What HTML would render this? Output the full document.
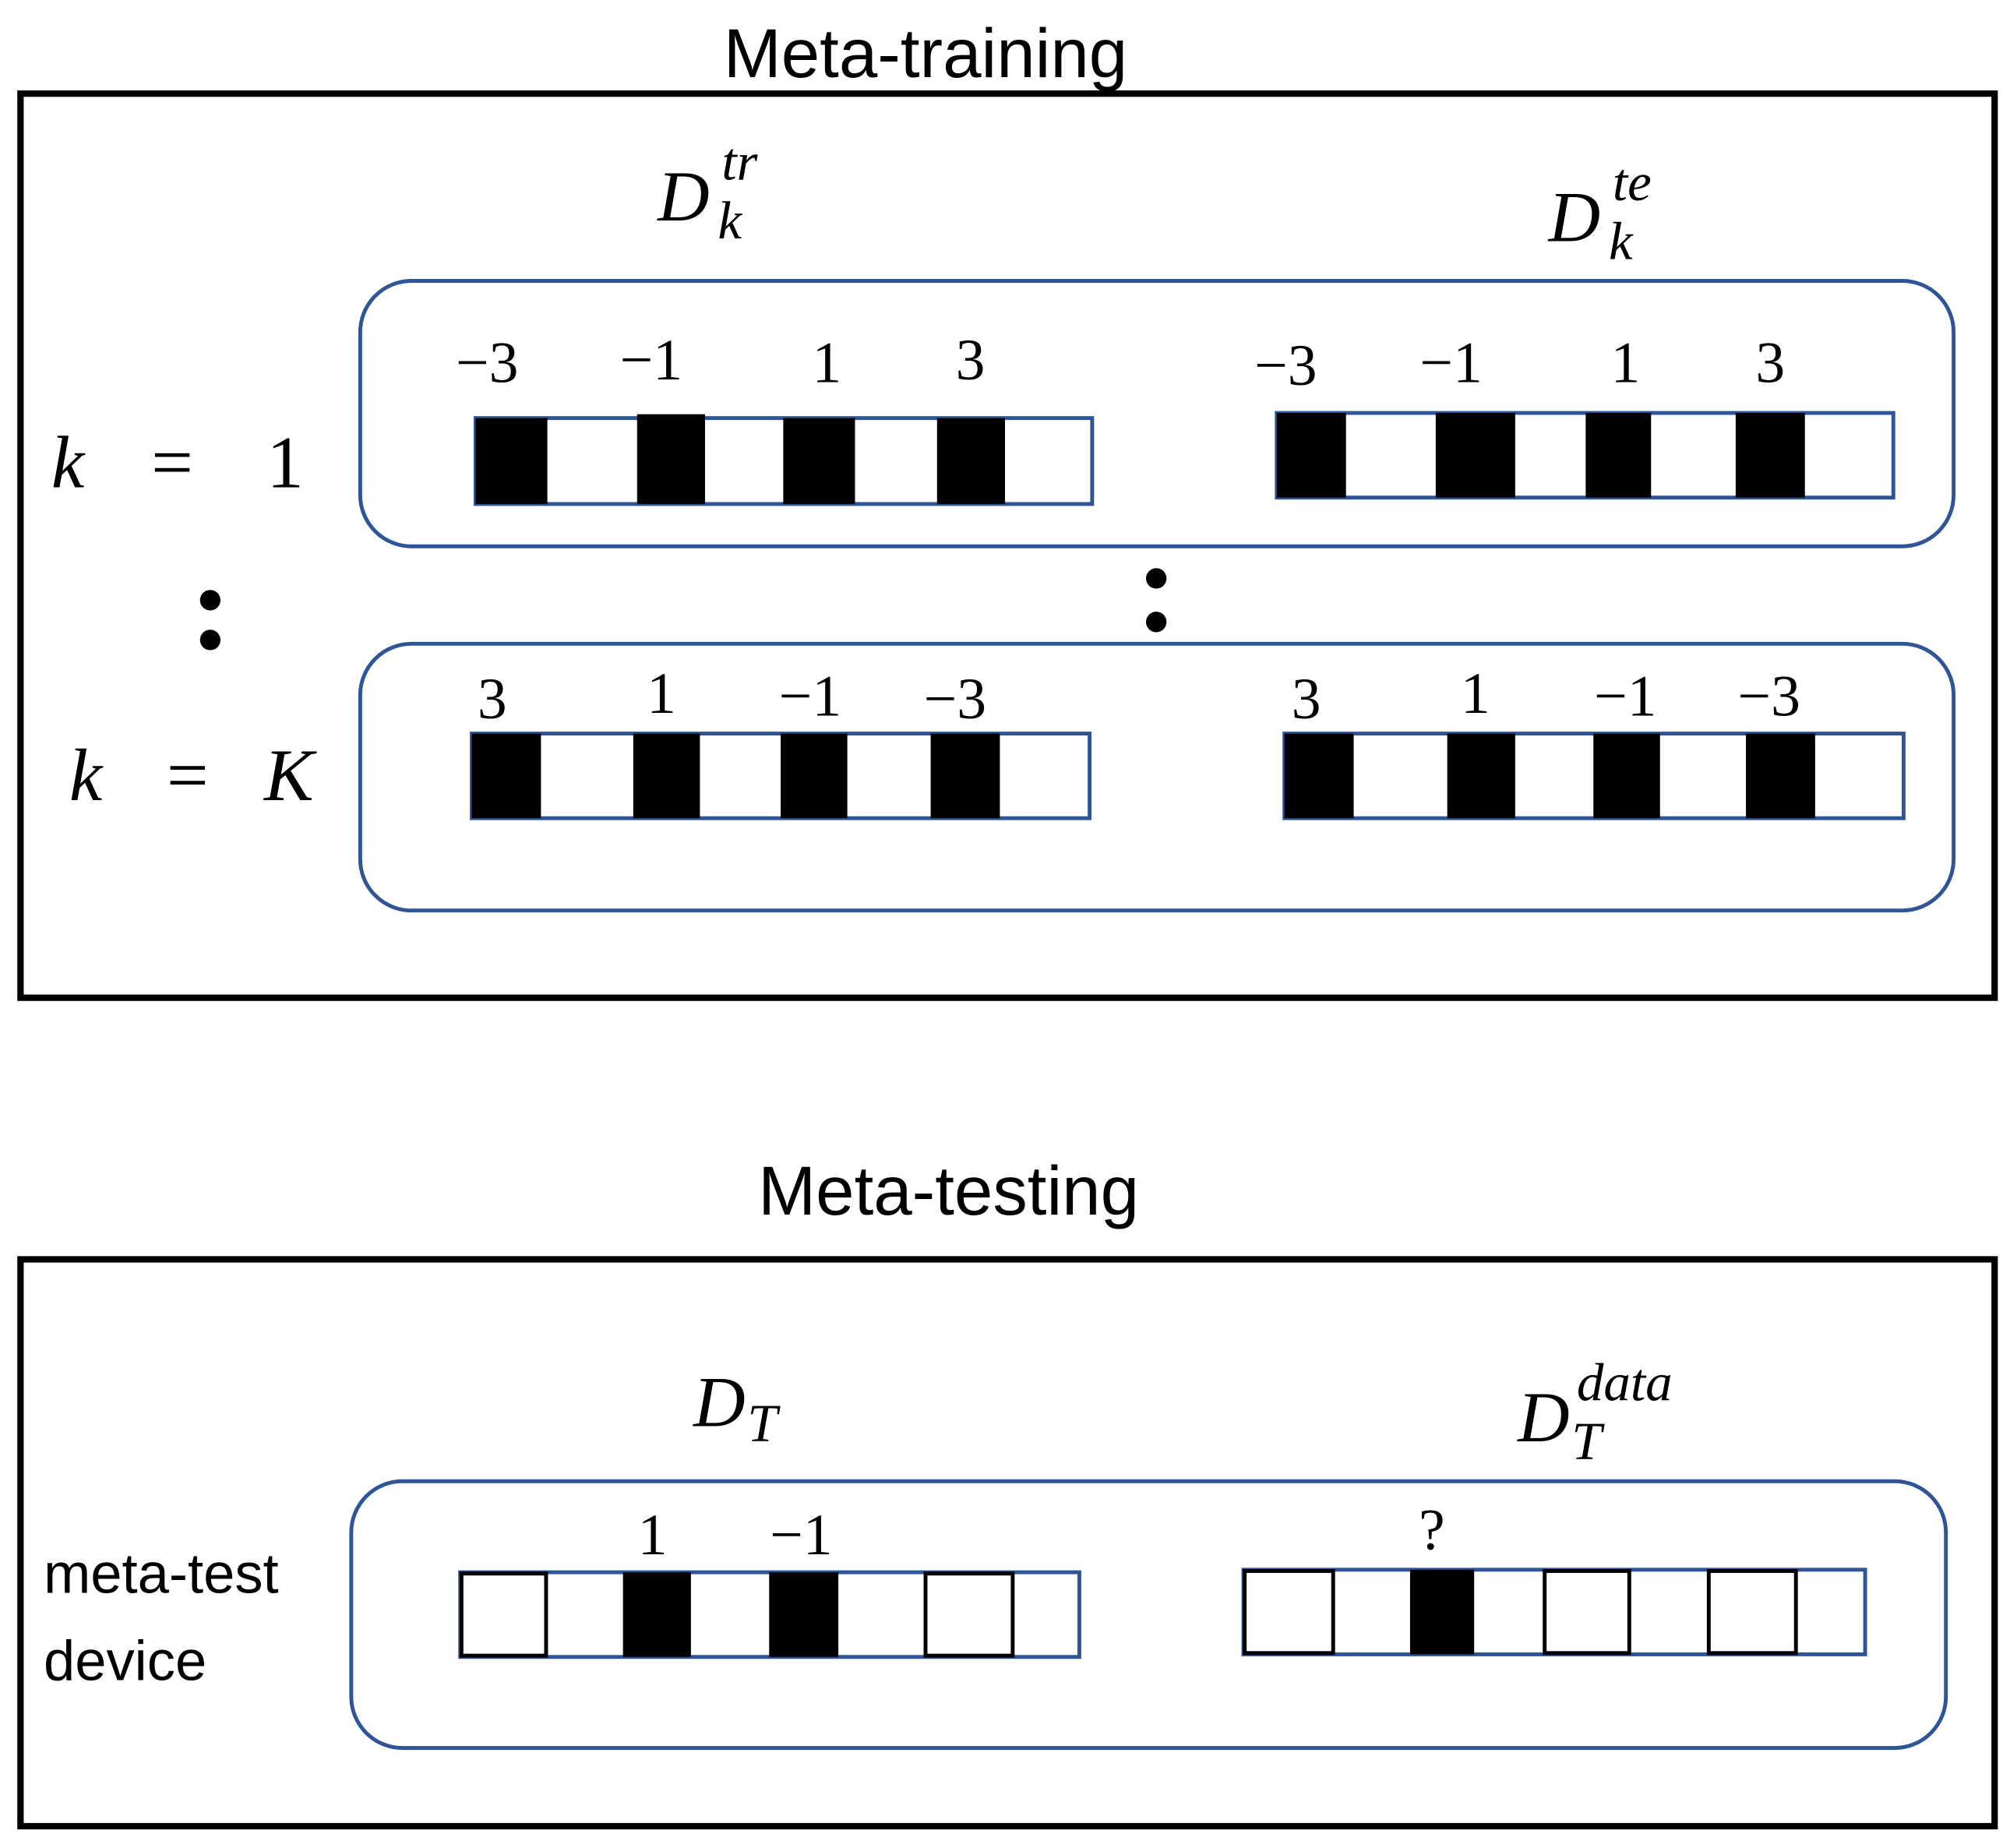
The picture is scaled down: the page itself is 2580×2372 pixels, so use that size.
<!DOCTYPE html>
<html><head><meta charset="utf-8"><style>
html,body{margin:0;padding:0;background:#fff;}
svg{display:block;}
.t{font-family:"Liberation Sans",sans-serif;}
.m{font-family:"Liberation Serif",serif;font-style:italic;}
.n{font-family:"Liberation Serif",serif;font-size:46px;}
</style></head><body>
<svg width="2580" height="2372" viewBox="0 0 1568 1441" preserveAspectRatio="none" xmlns="http://www.w3.org/2000/svg">
<rect width="1568" height="1441" fill="#fff"/>
<text class="t" x="722" y="60" font-size="54" text-anchor="middle">Meta-training</text>
<rect x="16" y="73" width="1540" height="705" fill="none" stroke="#000" stroke-width="5"/>
<rect x="281" y="219" width="1243" height="207" rx="40" fill="none" stroke="#2f5597" stroke-width="3"/>
<rect x="281" y="502" width="1243" height="208" rx="40" fill="none" stroke="#2f5597" stroke-width="3"/>

<!-- D_k^tr -->
<text class="m" x="513" y="172" font-size="56">D</text>
<text class="m" x="563" y="140" font-size="42">tr</text>
<text class="m" x="560" y="186" font-size="42">k</text>
<!-- D_k^te -->
<text class="m" x="1208" y="188" font-size="56">D</text>
<text class="m" x="1258" y="156" font-size="42">te</text>
<text class="m" x="1255" y="202" font-size="42">k</text>

<text class="m" x="40" y="380" font-size="58">k</text>
<text x="118" y="380" font-size="58" font-family="Liberation Serif,serif">=</text>
<text x="208" y="380" font-size="58" font-family="Liberation Serif,serif">1</text>
<text class="m" x="54" y="624" font-size="58">k</text>
<text x="130" y="624" font-size="58" font-family="Liberation Serif,serif">= </text>
<text class="m" x="206" y="624" font-size="58">K</text>

<circle cx="164" cy="468" r="8"/><circle cx="164" cy="499" r="8"/>
<circle cx="902" cy="451" r="8"/><circle cx="902" cy="485" r="8"/>

<!-- Row 1 left -->
<rect x="371" y="326" width="481" height="67" fill="none" stroke="#2f5597" stroke-width="3"/>
<rect x="371" y="326" width="56" height="67"/>
<rect x="497" y="323" width="53" height="70"/>
<rect x="611" y="326" width="56" height="67"/>
<rect x="731" y="326" width="53" height="67"/>
<g class="n" text-anchor="middle">
<text x="380" y="298">−3</text><text x="508" y="296">−1</text><text x="645" y="298">1</text><text x="757" y="296">3</text>
<text x="1003" y="300">−3</text><text x="1132" y="298">−1</text><text x="1268" y="298">1</text><text x="1381" y="298">3</text>
<text x="384" y="560">3</text><text x="516" y="556">1</text><text x="632" y="558">−1</text><text x="745" y="560">−3</text>
<text x="1019" y="560">3</text><text x="1151" y="556">1</text><text x="1268" y="558">−1</text><text x="1380" y="558">−3</text>
<text x="509" y="1212">1</text><text x="625" y="1212">−1</text>
<text x="1117" y="1208">?</text>
</g>
<!-- Row 1 right -->
<rect x="996" y="322" width="481" height="66" fill="none" stroke="#2f5597" stroke-width="3"/>
<rect x="996" y="322" width="54" height="66"/>
<rect x="1120" y="322" width="62" height="66"/>
<rect x="1237" y="322" width="51" height="66"/>
<rect x="1354" y="322" width="54" height="66"/>
<!-- Row K left -->
<rect x="368" y="572" width="482" height="66" fill="none" stroke="#2f5597" stroke-width="3"/>
<rect x="368" y="572" width="54" height="66"/>
<rect x="494" y="572" width="52" height="66"/>
<rect x="609" y="572" width="52" height="66"/>
<rect x="726" y="572" width="54" height="66"/>
<!-- Row K right -->
<rect x="1002" y="572" width="483" height="66" fill="none" stroke="#2f5597" stroke-width="3"/>
<rect x="1002" y="572" width="54" height="66"/>
<rect x="1129" y="572" width="53" height="66"/>
<rect x="1243" y="572" width="52" height="66"/>
<rect x="1362" y="572" width="54" height="66"/>

<text class="t" x="740" y="947" font-size="54" text-anchor="middle">Meta-testing</text>
<rect x="16" y="982" width="1540" height="442" fill="none" stroke="#000" stroke-width="5"/>
<rect x="274" y="1155" width="1244" height="208" rx="40" fill="none" stroke="#2f5597" stroke-width="3"/>

<text class="m" x="541" y="1112" font-size="56">D</text>
<text class="m" x="583" y="1124" font-size="42">T</text>
<text class="m" x="1184" y="1124" font-size="56">D</text>
<text class="m" x="1230" y="1092" font-size="42">data</text>
<text class="m" x="1226" y="1138" font-size="42">T</text>

<text class="t" x="34" y="1242" font-size="44">meta-test</text>
<text class="t" x="34" y="1310" font-size="44">device</text>

<!-- testing left bar -->
<rect x="359" y="1226" width="483" height="66" fill="none" stroke="#2f5597" stroke-width="3"/>
<rect x="360" y="1227" width="66" height="64" fill="none" stroke="#000" stroke-width="3"/>
<rect x="486" y="1226" width="53" height="66"/>
<rect x="600" y="1226" width="54" height="66"/>
<rect x="722" y="1227" width="68" height="64" fill="none" stroke="#000" stroke-width="3"/>
<!-- testing right bar -->
<rect x="970" y="1224" width="485" height="66" fill="none" stroke="#2f5597" stroke-width="3"/>
<rect x="971" y="1225" width="69" height="64" fill="none" stroke="#000" stroke-width="3"/>
<rect x="1100" y="1224" width="50" height="66"/>
<rect x="1205" y="1225" width="66" height="64" fill="none" stroke="#000" stroke-width="3"/>
<rect x="1333" y="1225" width="68" height="64" fill="none" stroke="#000" stroke-width="3"/>
</svg>
</body></html>
